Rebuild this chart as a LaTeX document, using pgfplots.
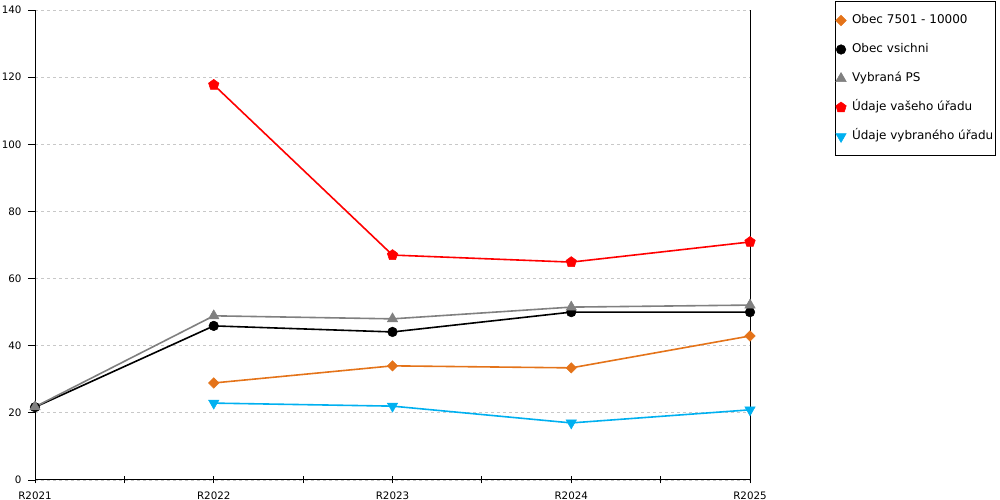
\documentclass[border=0pt]{standalone}
\usepackage{fontspec}
\setmainfont{DejaVu Sans}
\usepackage{pgfplots}
\pgfplotsset{compat=1.18}
\definecolor{orgc}{RGB}{228,115,25}
\definecolor{bluc}{RGB}{0,176,240}
\definecolor{grayc}{RGB}{128,128,128}
\definecolor{gridc}{RGB}{200,200,200}
\begin{document}
\begin{tikzpicture}[x=1bp,y=1bp]
\path[use as bounding box] (0,0) rectangle (1000,500);
\begin{axis}[
  at={(35bp,20bp)}, anchor=south west,
  scale only axis, width=715bp, height=470bp,
  xmin=0, xmax=4, ymin=0, ymax=140,
  axis x line*=bottom, axis y line*=left,
  axis line style={black, line width=1bp},
  xtick={0,1,2,3,4},
  xticklabels={R2021,R2022,R2023,R2024,R2025},
  minor xtick={0.5,1.5,2.5,3.5},
  ytick={0,20,...,140},
  /pgf/number format/assume math mode=true,
  ymajorgrids,
  major grid style={gridc, dash pattern=on 3bp off 3bp, line width=0.9bp},
  tick align=outside,
  major tick length=7bp, minor tick length=7bp,
  xtick style={black, line width=0.9bp, yshift=3.5bp},
  ytick style={black, line width=0.9bp},
  tick label style={font=\fontsize{10.3bp}{11bp}\selectfont, black},
  xticklabel style={yshift=-1bp},
  yticklabel style={xshift=-3bp},
  clip=false,
  legend cell align=left,
  legend image code/.code={\draw[#1, only marks] plot coordinates {(0bp,0bp)};
    \path[draw=none, fill=none] (-5.5bp,0bp) rectangle (9bp,0bp);},
  legend style={at={(1.119,1.019)}, anchor=north west, draw=black, line width=0.9bp,
    font=\fontsize{12bp}{14bp}\selectfont,
    inner xsep=0bp, inner ysep=11bp, row sep=13bp,
    nodes={inner sep=2bp, text height=9bp, text depth=3bp}},
]
\addplot[orgc, line width=1.6bp, mark=square*, mark size=3.7bp, mark options={solid, rotate=45, line width=0.5bp}]
  coordinates {(1,28.9) (2,34.0) (3,33.4) (4,42.9)};
\addlegendentry{Obec 7501 - 10000}
\addplot[black, line width=1.6bp, mark=*, mark size=4.8bp, mark options={solid, line width=0.5bp}]
  coordinates {(0,21.7) (1,45.9) (2,44.1) (3,50.0) (4,50.0)};
\addlegendentry{Obec vsichni}
\addplot[grayc, line width=1.6bp, mark=triangle*, mark size=6bp, mark options={solid, line width=0.5bp}]
  coordinates {(0,21.8) (1,48.9) (2,48.0) (3,51.5) (4,52.1)};
\addlegendentry{Vybraná PS}
\addplot[red, line width=1.6bp, mark=pentagon*, mark size=5.5bp, mark options={solid, line width=0.5bp}]
  coordinates {(1,117.7) (2,67.0) (3,64.9) (4,70.9)};
\addlegendentry{Údaje vašeho úřadu}
\addplot[bluc, line width=1.6bp, mark=triangle*, mark size=6bp, mark options={solid, rotate=180, line width=0.5bp}]
  coordinates {(1,22.9) (2,22.0) (3,17.0) (4,20.9)};
\addlegendentry{Údaje vybraného úřadu}
\draw[black, line width=1bp] (axis cs:4,0) -- (axis cs:4,140);
\end{axis}
\end{tikzpicture}
\end{document}
